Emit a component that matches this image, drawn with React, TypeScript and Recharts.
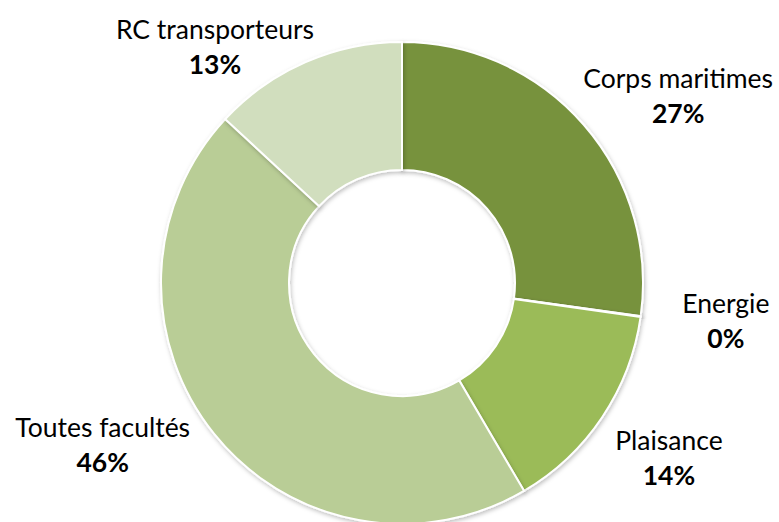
import { PieChart, Pie, Cell } from "recharts";

// Répartition des cotisations par branche (donut, clockwise from 12 o'clock).
const categories = ["Corps maritimes", "Energie", "Plaisance", "Toutes facultés", "RC transporteurs"];
const shares = [27.2, 0.05, 14.3, 45.35, 13.1];
const shareLabels = ["27%", "0%", "14%", "46%", "13%"];

const COLORS = ["#77923e", "#77923e", "#9bbb59", "#b9cd96", "#d1debe"];

// Excel placed the labels by hand; nudge each from its radial anchor.
const NUDGE: Record<string, [number, number]> = {
  "Corps maritimes": [31, 18],
  Energie: [2, -15],
  Plaisance: [-3, -14],
  "Toutes facultés": [-46, -50],
  "RC transporteurs": [-57, 54],
};

const data = categories.map((name, i) => ({ name, value: shares[i], label: shareLabels[i] }));

const RAD = Math.PI / 180;

function renderLabel(props: any) {
  const { cx, cy, midAngle, outerRadius, index } = props;
  const d = data[index];
  const r = outerRadius + 84;
  const [nx, ny] = NUDGE[d.name] ?? [0, 0];
  const x = cx + r * Math.cos(-midAngle * RAD) + nx;
  const y = cy + r * Math.sin(-midAngle * RAD) + ny;
  return (
    <text x={x} y={y} textAnchor="middle" fill="#000" fontFamily="Lato, sans-serif" fontSize={26.5}>
      <tspan x={x} y={y}>{d.name}</tspan>
      <tspan x={x} y={y + 35} fontWeight="bold">{d.label}</tspan>
    </text>
  );
}

export default function App() {
  return (
    <div style={{ position: "absolute", left: 0, top: 0 }}>
      <PieChart width={779} height={522} margin={{ top: 0, right: 0, bottom: 0, left: 0 }}>
        <defs>
          <filter id="soft" x="-10%" y="-10%" width="120%" height="120%">
            <feDropShadow dx="1" dy="2" stdDeviation="2" floodColor="#000" floodOpacity="0.25" />
          </filter>
        </defs>
        <Pie
          data={data}
          dataKey="value"
          nameKey="name"
          cx={402}
          cy={283}
          innerRadius={113}
          outerRadius={241}
          startAngle={90}
          endAngle={-270}
          stroke="#fff"
          strokeWidth={2}
          label={renderLabel}
          labelLine={false}
          isAnimationActive={false}
          style={{ filter: "url(#soft)" }}
        >
          {data.map((_, i) => (
            <Cell key={i} fill={COLORS[i]} />
          ))}
        </Pie>
      </PieChart>
    </div>
  );
}
